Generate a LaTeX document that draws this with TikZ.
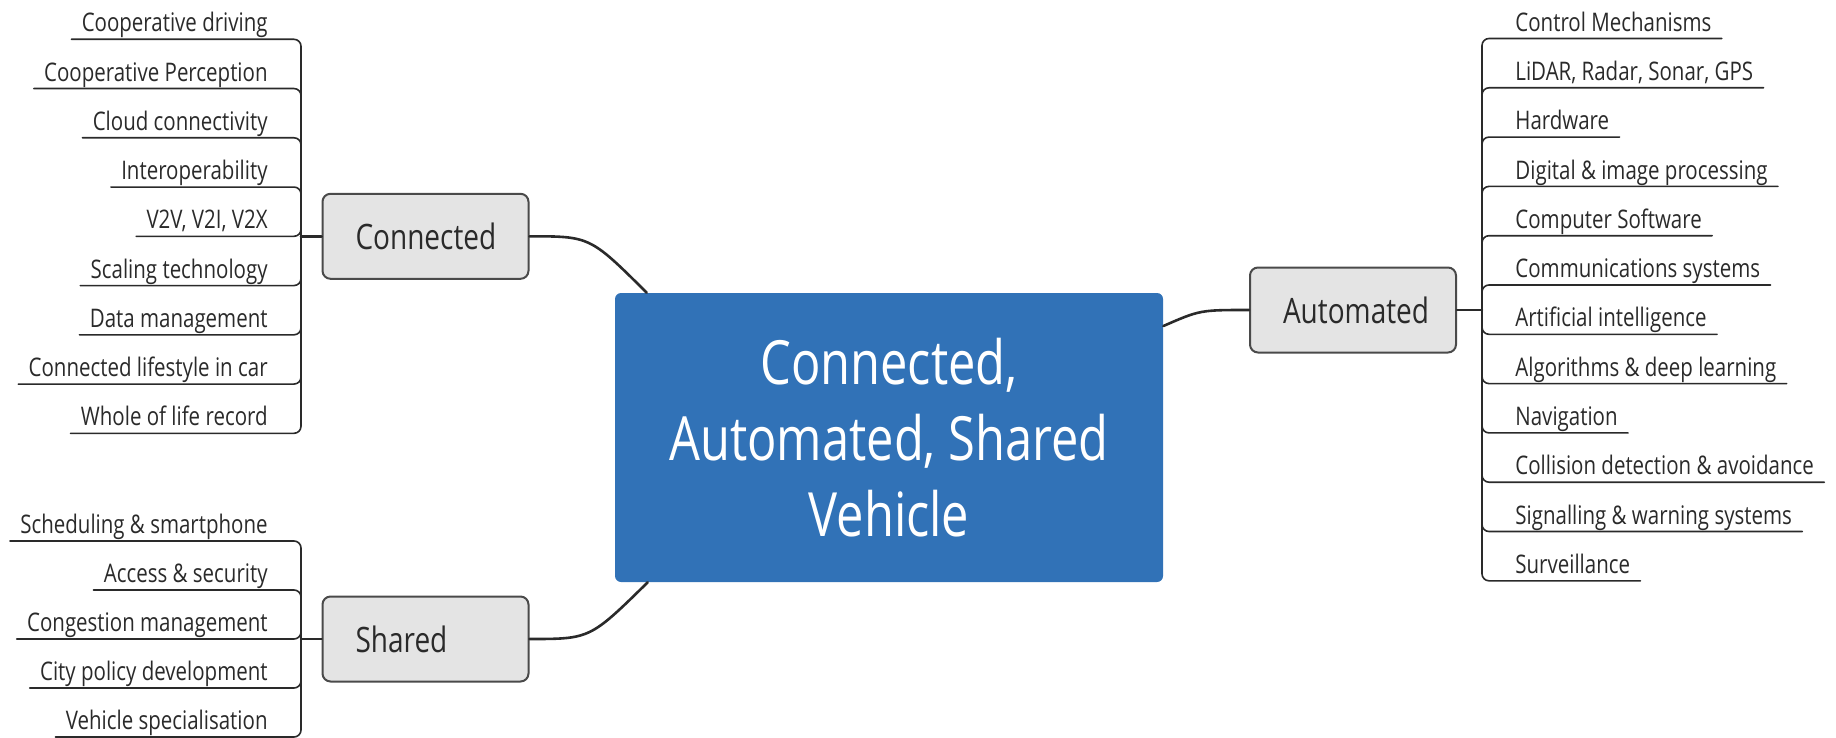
\documentclass[tikz,border=0pt]{standalone}
\usepackage{fontspec}
\setmainfont{Open Sans}[FakeStretch=0.80]
\hyphenpenalty=10000
\definecolor{hubblue}{HTML}{3172B7}
\definecolor{boxgray}{HTML}{E4E4E4}
\definecolor{edgegray}{HTML}{4A4A4A}
\definecolor{inkgray}{HTML}{2A2A2A}
\begin{document}
\begin{tikzpicture}[x=0.5pt,y=-0.5pt,line join=round,line cap=round,
	core/.style={fill=hubblue,text=white,rounded corners=3pt,minimum width=274pt,minimum height=144.5pt,align=center,font=\fontsize{30.5}{38}\selectfont},
	topic/.style={draw=edgegray,line width=1pt,fill=boxgray,rounded corners=4pt,text=inkgray,text width=70pt,align=left,inner xsep=16.5pt,minimum height=42.5pt,font=\fontsize{17.5}{21}\selectfont},
	leaf/.style={text=inkgray,inner xsep=5pt,inner ysep=0pt,text depth=3.5pt,font=\fontsize{12.8}{15}\selectfont},
	trunk/.style={draw=inkgray,line width=1.3pt},
	twig/.style={draw=inkgray,line width=0.8pt,rounded corners=3.5pt}]
	\useasboundingbox (0,0) rectangle (1836,738);
	\node[core] (cav) at (889,437.5) {Connected,\\Automated, Shared\\Vehicle};
	\node[topic] (con) at (425.5,236.3) {Connected};
	\node[topic] (sha) at (425.5,639) {Shared};
	\node[topic] (aut) at (1353,310) {Automated};
	\path (301,236.3) coordinate (hc) (301,639) coordinate (hs) (1482,310) coordinate (ha);
	% main branches
	\draw[trunk] (con.east) .. controls (590,236.3) .. ([xshift=16pt]cav.north west);
	\draw[trunk] (sha.east) .. controls (590,639) .. ([xshift=16.5pt]cav.south west);
	\draw[trunk] ([yshift=55.75pt]cav.east) .. controls (1200,310) .. (aut.west);
	\draw[trunk] (con.west) -- (hc) (sha.west) -- (hs) (aut.east) -- (ha);
	% leaves
	\foreach \t [count=\i] in {Cooperative driving,Cooperative Perception,Cloud connectivity,Interoperability,{V2V, V2I, V2X},Scaling technology,Data management,Connected lifestyle in car,Whole of life record}{
		\node[leaf,anchor=south east] (c\i) at (278,{39.3+49.25*(\i-1)}) {\t};
		\draw[twig] (hc) |- (c\i.south west);}
	\foreach \t [count=\i] in {Scheduling \& smartphone,Access \& security,Congestion management,City policy development,Vehicle specialisation}{
		\node[leaf,anchor=south east] (s\i) at (278,{541+49*(\i-1)}) {\t};
		\draw[twig] (hs) |- (s\i.south west);}
	\foreach \t [count=\i] in {Control Mechanisms,{LiDAR, Radar, Sonar, GPS},Hardware,Digital \& image processing,Computer Software,Communications systems,Artificial intelligence,Algorithms \& deep learning,Navigation,Collision detection \& avoidance,Signalling \& warning systems,Surveillance}{
		\node[leaf,anchor=south west] (a\i) at (1505,{38.5+49.3*(\i-1)}) {\t};
		\draw[twig] (ha) |- (a\i.south east);}
\end{tikzpicture}
\end{document}
